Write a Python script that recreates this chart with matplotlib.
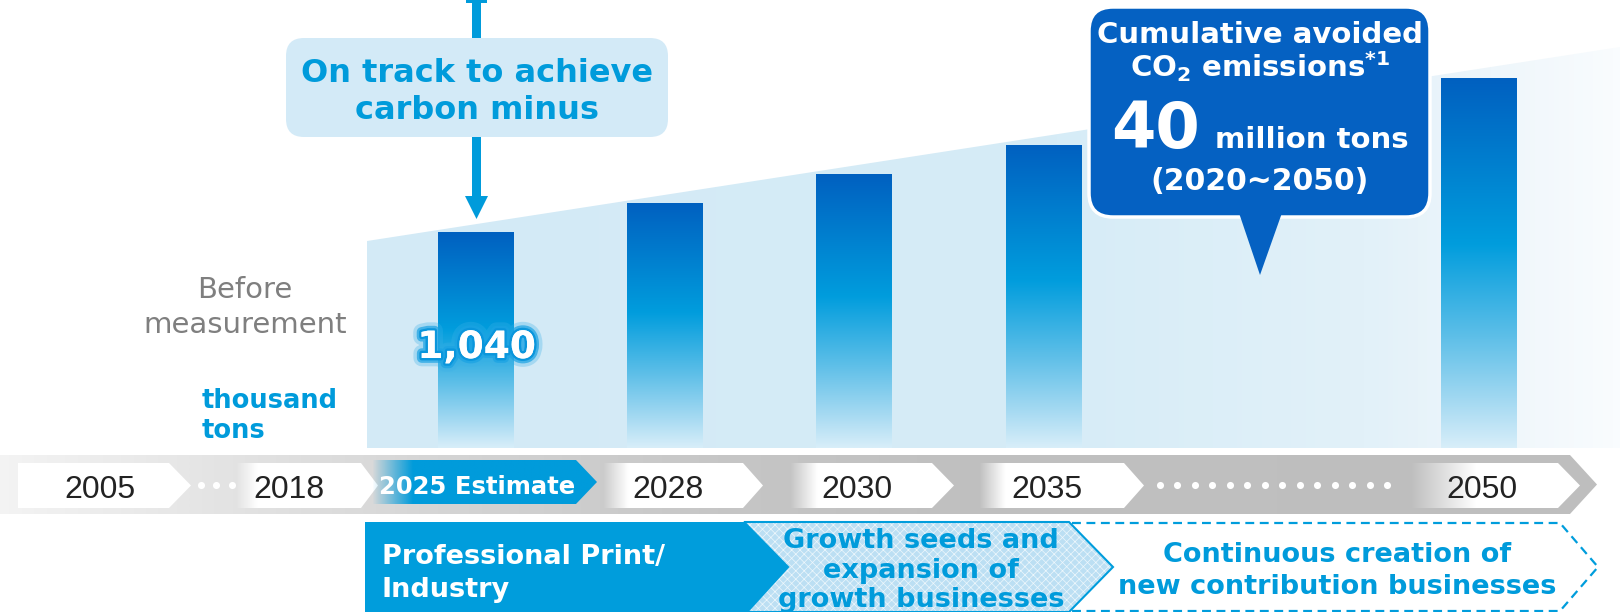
'''
Avoided CO2 emissions roadmap (bars + timeline)
'''

import numpy as np
import matplotlib
matplotlib.use('Agg')
import matplotlib.pyplot as plt
import matplotlib.patheffects as pe
from matplotlib.colors import LinearSegmentedColormap, to_rgba
from matplotlib.patches import Polygon, FancyBboxPatch

# ---- data ----
timeline = ['2005', '2018', '2025 Estimate', '2028', '2030', '2035', '2050']
timeline_slot = [0, 1, 2, 3, 4, 5, 7.3]
bar_years = ['2025 Estimate', '2028', '2030', '2035', '2050']
bar_values = [1040, 1180, 1320, 1460, 1780]   # thousand tons (only 2025 is labelled)
bar_slot = [2, 3, 4, 5, 7.3]
bar_label = '1,040'
unit = ['thousand', 'tons']
before = ['Before', 'measurement']
phases = [['Professional Print/', 'Industry'],
          ['Growth seeds and', 'expansion of', 'growth businesses'],
          ['Continuous creation of', 'new contribution businesses']]
callout = ['On track to achieve', 'carbon minus']
bubble = ['Cumulative avoided', r'CO$_2$ emissions$^{*1}$', '40', 'million tons', '(2020~2050)']

W, H = 1620, 612
X0, STEP = 97, 189.3          # pixel x of slot 0, pixels per slot
BLUE = '#009bdb'
DARK = '#0561c2'
LIGHT = '#d3eaf7'

plt.rcParams['font.family'] = 'DejaVu Sans'
plt.rcParams['mathtext.fontset'] = 'dejavusans'
plt.rcParams['mathtext.default'] = 'bf'
plt.rcParams['hatch.linewidth'] = 0.5


def px(slot):
    return X0 + STEP * slot


def gradient(ax, extent, stops, clip, vertical=False, zorder=1):
    cmap = LinearSegmentedColormap.from_list(
        'g', [(p, to_rgba(c, a)) for p, c, a in stops])
    ramp = np.linspace(0, 1, 256)
    img = ramp[:, None] if vertical else ramp[None, :]
    im = ax.imshow(img, cmap=cmap, extent=extent, aspect='auto', origin='upper',
                   interpolation='bilinear', zorder=zorder)
    ax.add_patch(clip)
    im.set_clip_path(clip)


def chevron(x0, x1, tip, top, bot):
    mid = (top + bot) / 2
    return [(x0, top), (x1, top), (tip, mid), (x1, bot), (x0, bot)]


fig = plt.figure(figsize=(W / 100, H / 100), dpi=100)
bg = fig.add_axes([0, 0, 1, 1], zorder=0)
ax = fig.add_axes([0, (H - 448) / H, 1, 448 / H], zorder=1)
fg = fig.add_axes([0, 0, 1, 1], zorder=2)
for a in (ax, fg):
    a.patch.set_alpha(0)

# ---- background wedge ----
wedge = Polygon([(367, 448), (367, 241), (1620, 47), (1620, 448)], fill=False, lw=0)
gradient(bg, (367, 1620, 448, 47),
         [(0, '#d3eaf6', 1), (0.55, '#d6ecf7', 1), (0.8, '#e2f1f9', 1),
          (0.9, '#eef6fb', 1), (1, '#f9fcfe', 1)], wedge)

# ---- timeline band ----
band = Polygon(chevron(0, 1570, 1597, 455, 514), fill=False, lw=0)
gradient(bg, (0, 1597, 514, 455),
         [(0, '#f3f3f3', 1), (0.15, '#e2e2e2', 1), (0.3, '#d2d2d2', 1),
          (0.45, '#c6c6c6', 1), (0.6, '#c0c0c0', 1), (1, '#bebebe', 1)], band)

tiles = [(18, 18, 169, 191), (236, 257, 361, 378), (603, 628, 743, 763),
         (790, 817, 932, 954), (979, 1005, 1124, 1144), (1411, 1475, 1558, 1580)]
for fs, ws, flat, tip in tiles:
    shape = chevron(fs, flat, tip, 463, 508)
    if ws <= fs:
        bg.add_patch(Polygon(shape, fc='white', lw=0, zorder=2))
    else:
        p = (ws - fs) / (tip - fs)
        gradient(bg, (fs, tip, 508, 463),
                 [(0, 'white', 0), (p, 'white', 1), (1, 'white', 1)],
                 Polygon(shape, fill=False, lw=0), zorder=2)

blue_tile = Polygon(chevron(372, 576, 597, 460, 504), fill=False, lw=0)
gradient(bg, (372, 597, 504, 460),
         [(0, BLUE, 0), (0.18, BLUE, 1), (1, BLUE, 1)], blue_tile, zorder=3)

bg.scatter([201, 216, 232], [485] * 3, s=26, c='white', lw=0, zorder=4)
bg.scatter(np.linspace(1160, 1387, 14), [485] * 14, s=26, c='white', lw=0, zorder=4)

# ---- phases ----
bg.add_patch(Polygon([(365, 522), (744, 522), (788, 567), (747, 612), (365, 612)],
                     fc='#009ddc', lw=0, zorder=2))
mid_shape = [(744, 522), (1069, 522), (1113, 567), (1069, 612), (747, 612), (788, 567)]
bg.add_patch(Polygon(mid_shape, fc='#bcdff3', ec='#eef7fc', hatch='xxxx', lw=0, zorder=2))
bg.add_patch(Polygon(mid_shape, fill=False, ec='#009ddc', lw=1.5, zorder=3))
bg.plot([1072, 1560, 1598, 1560, 1072], [523, 523, 567, 611, 611],
        color='#009ddc', lw=1.6, ls=(0, (4, 2.5)), zorder=3)

bg.set_xlim(0, W)
bg.set_ylim(H, 0)
bg.axis('off')

# ---- bars ----
ymax = 448 * 1040 / 216
bars = ax.bar(bar_slot, bar_values, width=0.40, color='none', lw=0)
for b in bars:
    x0, h, w = b.get_x(), b.get_height(), b.get_width()
    gradient(ax, (x0, x0 + w, 0, h),
             [(0, '#0060c0', 1), (0.45, '#019ddd', 1), (0.7, '#5ebfe8', 1),
              (0.88, '#a6daf2', 1), (1, '#d8eef9', 1)],
             b, vertical=True)
ax.set_xlim(-X0 / STEP, (W - X0) / STEP)
ax.set_ylim(0, ymax)
ax.axis('off')

# ---- foreground: callouts and text ----
fg.add_patch(Polygon([(472, 0), (481, 0), (481, 38), (472, 38)], fc=BLUE, lw=0))
fg.add_patch(Polygon([(466, 0), (487, 0), (487, 3), (466, 3)], fc=BLUE, lw=0))
fg.add_patch(Polygon([(472, 136), (481, 136), (481, 197), (472, 197)], fc=BLUE, lw=0))
fg.add_patch(Polygon([(465, 196), (488, 196), (476.5, 219)], fc=BLUE, lw=0))
fg.add_patch(FancyBboxPatch((286, 38), 382, 99, boxstyle='round,pad=0,rounding_size=18',
                            fc=LIGHT, lw=0))
for txt, yb in zip(callout, [82, 119]):
    fg.text(477, yb, txt, ha='center', va='baseline', fontsize=23,
            fontweight='bold', color=BLUE)

fg.add_patch(FancyBboxPatch((1089, 7), 341, 210, boxstyle='round,pad=0,rounding_size=24',
                            fc=DARK, ec='white', lw=2.5))
fg.add_patch(Polygon([(1238, 210), (1283, 210), (1260, 275)], fc=DARK, lw=0))
fg.text(1260, 43, bubble[0], ha='center', va='baseline', fontsize=21,
        fontweight='bold', color='white')
fg.text(1260, 77, bubble[1], ha='center', va='baseline', fontsize=21,
        fontweight='bold', color='white')
fg.text(1111, 148, bubble[2], ha='left', va='baseline', fontsize=46,
        fontweight='bold', color='white')
fg.text(1215, 148, bubble[3], ha='left', va='baseline', fontsize=21,
        fontweight='bold', color='white')
fg.text(1260, 190, bubble[4], ha='center', va='baseline', fontsize=21.5,
        fontweight='bold', color='white')

for txt, yb in zip(before, [298, 333]):
    fg.text(245, yb, txt, ha='center', va='baseline', fontsize=21, color='#7f7f7f')
for txt, yb in zip(unit, [408, 438]):
    fg.text(202, yb, txt, ha='left', va='baseline', fontsize=18.5,
            fontweight='bold', color=BLUE)

fg.text(px(bar_slot[0]) + 1, 358, bar_label, ha='center', va='baseline', fontsize=27,
        fontweight='bold', color='white',
        path_effects=[pe.withStroke(linewidth=12, foreground='#3bb0e8', alpha=0.3),
                      pe.withStroke(linewidth=7, foreground='#1aa2e3', alpha=0.7),
                      pe.withStroke(linewidth=3.5, foreground='#0a96dc', alpha=1),
                      pe.Normal()])

for label, slot in zip(timeline, timeline_slot):
    if 'Estimate' in label:
        fg.text(px(slot) + 1, 494, label, ha='center', va='baseline', fontsize=17.5,
                fontweight='bold', color='white')
    else:
        fg.text(px(slot) + 3, 498, label, ha='center', va='baseline', fontsize=23,
                family='Liberation Sans', color='#222222')

for txt, yb in zip(phases[0], [564, 597]):
    fg.text(382, yb, txt, ha='left', va='baseline', fontsize=19.5,
            fontweight='bold', color='white')
for txt, yb in zip(phases[1], [548, 578, 607]):
    fg.text(921, yb, txt, ha='center', va='baseline', fontsize=19.5,
            fontweight='bold', color=BLUE)
for txt, yb in zip(phases[2], [562, 594]):
    fg.text(1337, yb, txt, ha='center', va='baseline', fontsize=19.5,
            fontweight='bold', color=BLUE)

fg.set_xlim(0, W)
fg.set_ylim(H, 0)
fg.axis('off')

fig.savefig('out.png', dpi=100)
